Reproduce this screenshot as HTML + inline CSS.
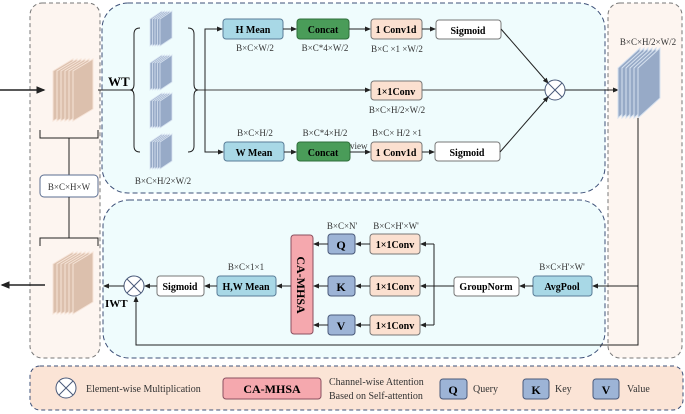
<!DOCTYPE html>
<html><head><meta charset="utf-8"><style>
body{margin:0;background:#fff}
svg{display:block;font-family:"Liberation Serif",serif}
.b{font-weight:bold;font-size:10px}
.s{font-size:9px;fill:#333}
</style></head><body>
<svg width="685" height="414" viewBox="0 0 685 414" xmlns="http://www.w3.org/2000/svg">
<defs>
<marker id="a" markerWidth="6" markerHeight="6" refX="5" refY="3" orient="auto"><path d="M0,0.5 L6,3 L0,5.5Z" fill="#222"/></marker>
<path id="ps" d="M0,14 L20,2 L20,52 L0,64Z" fill="#dcc0ad" stroke="#f6e4d8" stroke-width="1"/>
<path id="bs" d="M0,8 L12,0 L12,27 L0,35Z" fill="#97aac7" stroke="#d7e2f0" stroke-width="0.8"/>
<path id="rs" d="M0,20 L22,0 L22,50 L0,70Z" fill="#97aac7" stroke="#d7e2f0" stroke-width="1"/>
<g id="ox"><circle r="10" fill="#fff" stroke="#4a5a7a" stroke-width="1"/><path d="M-7,-7L7,7M7,-7L-7,7" stroke="#4a5a7a" stroke-width="1"/></g>
</defs>
<!-- panels -->
<rect x="30" y="3" width="70" height="355" rx="12" fill="#fdf5f0" stroke="#777" stroke-dasharray="4,3"/>
<rect x="608" y="3" width="74" height="355" rx="12" fill="#fdf5f0" stroke="#777" stroke-dasharray="4,3"/>
<rect x="102" y="3" width="503" height="190" rx="26" fill="#effcfd" stroke="#3d5078" stroke-dasharray="5,3"/>
<rect x="103" y="200" width="502" height="158" rx="26" fill="#effcfd" stroke="#3d5078" stroke-dasharray="5,3"/>
<rect x="30" y="366" width="653" height="44" rx="10" fill="#fbe4d6" stroke="#3d5078" stroke-dasharray="4,3"/>

<!-- input -->
<line x1="0" y1="90" x2="44" y2="90" stroke="#222" stroke-width="1.5" marker-end="url(#a)"/>
<g transform="translate(53,57)"><use href="#ps"/><use href="#ps" x="4"/><use href="#ps" x="8"/><use href="#ps" x="12"/><use href="#ps" x="16"/><use href="#ps" x="20"/></g>
<text x="108" y="86" class="b" font-size="13" style="font-size:13px">WT</text>
<line x1="98" y1="90" x2="133" y2="90" stroke="#222"/>
<!-- braces -->
<path d="M140,28 Q134,28 134,34 L134,84 Q134,90 130,90 Q134,90 134,96 L134,146 Q134,152 140,152" fill="none" stroke="#222"/>
<path d="M188,28 Q194,28 194,34 L194,84 Q194,90 198,90 Q194,90 194,96 L194,146 Q194,152 188,152" fill="none" stroke="#222"/>
<g transform="translate(150,11)"><use href="#bs"/><use href="#bs" x="2.5"/><use href="#bs" x="5"/><use href="#bs" x="7.5"/><use href="#bs" x="10"/></g>
<g transform="translate(150,55)"><use href="#bs"/><use href="#bs" x="2.5"/><use href="#bs" x="5"/><use href="#bs" x="7.5"/><use href="#bs" x="10"/></g>
<g transform="translate(150,93)"><use href="#bs"/><use href="#bs" x="2.5"/><use href="#bs" x="5"/><use href="#bs" x="7.5"/><use href="#bs" x="10"/></g>
<g transform="translate(150,134)"><use href="#bs"/><use href="#bs" x="2.5"/><use href="#bs" x="5"/><use href="#bs" x="7.5"/><use href="#bs" x="10"/></g>
<text x="163" y="184" class="s" text-anchor="middle">B×C×H/2×W/2</text>

<!-- branch lines -->
<line x1="198" y1="90" x2="545" y2="90" stroke="#444"/>
<path d="M205,90 L205,29 L222,29" fill="none" stroke="#222" marker-end="url(#a)"/>
<path d="M205,90 L205,152 L223,152" fill="none" stroke="#222" marker-end="url(#a)"/>
<line x1="340" y1="90" x2="370" y2="90" stroke="#222" marker-end="url(#a)"/>

<!-- top row -->
<rect x="223" y="19" width="60" height="20" rx="3" fill="#a8d8e6" stroke="#5a7d98"/>
<text x="253" y="33" class="b" text-anchor="middle">H Mean</text>
<text x="255" y="51" class="s" text-anchor="middle">B×C×W/2</text>
<line x1="283" y1="29" x2="296" y2="29" stroke="#222" marker-end="url(#a)"/>
<rect x="297" y="19" width="52" height="20" rx="3" fill="#4a9c59" stroke="#2f6e3a"/>
<text x="323" y="33" class="b" text-anchor="middle">Concat</text>
<text x="325" y="51" class="s" text-anchor="middle">B×C*4×W/2</text>
<line x1="349" y1="29" x2="370" y2="29" stroke="#222" marker-end="url(#a)"/>
<rect x="371" y="19" width="51" height="20" rx="3" fill="#fbe0d0" stroke="#777"/>
<text x="396" y="33" class="b" text-anchor="middle">1 Conv1d</text>
<text x="397" y="52" class="s" text-anchor="middle">B×C ×1 ×W/2</text>
<line x1="422" y1="29" x2="435" y2="29" stroke="#222" marker-end="url(#a)"/>
<rect x="436" y="20" width="65" height="19" rx="3" fill="#fff" stroke="#777"/>
<text x="468" y="34" class="b" text-anchor="middle">Sigmoid</text>
<line x1="501" y1="29" x2="548" y2="83" stroke="#222" marker-end="url(#a)"/>

<!-- middle -->
<rect x="371" y="81" width="51" height="19" rx="3" fill="#fbe0d0" stroke="#777"/>
<text x="396" y="95" class="b" text-anchor="middle">1×1Conv</text>
<text x="397" y="113" class="s" text-anchor="middle">B×C×H/2×W/2</text>
<use href="#ox" x="555" y="90"/>
<line x1="565" y1="90" x2="618" y2="90" stroke="#222" marker-end="url(#a)"/>

<!-- bottom row top panel -->
<text x="255" y="136" class="s" text-anchor="middle">B×C×H/2</text>
<rect x="224" y="142" width="60" height="19" rx="3" fill="#a8d8e6" stroke="#5a7d98"/>
<text x="254" y="156" class="b" text-anchor="middle">W Mean</text>
<line x1="284" y1="152" x2="296" y2="152" stroke="#222" marker-end="url(#a)"/>
<text x="325" y="136" class="s" text-anchor="middle">B×C*4×H/2</text>
<rect x="297" y="142" width="53" height="19" rx="3" fill="#4a9c59" stroke="#2f6e3a"/>
<text x="323" y="156" class="b" text-anchor="middle">Concat</text>
<text x="350" y="149" class="s">view</text>
<line x1="350" y1="152" x2="370" y2="152" stroke="#222" marker-end="url(#a)"/>
<text x="397" y="136" class="s" text-anchor="middle">B×C× H/2 ×1</text>
<rect x="371" y="142" width="51" height="19" rx="3" fill="#fbe0d0" stroke="#777"/>
<text x="396" y="156" class="b" text-anchor="middle">1 Conv1d</text>
<line x1="422" y1="152" x2="434" y2="152" stroke="#222" marker-end="url(#a)"/>
<rect x="435" y="142" width="65" height="19" rx="3" fill="#fff" stroke="#777"/>
<text x="467" y="156" class="b" text-anchor="middle">Sigmoid</text>
<line x1="500" y1="152" x2="548" y2="97" stroke="#222" marker-end="url(#a)"/>

<!-- right stack -->
<text x="648" y="45" class="s" text-anchor="middle">B×C×H/2×W/2</text>
<g transform="translate(618,48)"><use href="#rs"/><use href="#rs" x="4"/><use href="#rs" x="8"/><use href="#rs" x="12"/><use href="#rs" x="16"/><use href="#rs" x="20"/></g>
<path d="M638,118 L638,345 L136,345 L136,297" fill="none" stroke="#222" marker-end="url(#a)"/>
<line x1="638" y1="286" x2="593" y2="286" stroke="#222" marker-end="url(#a)"/>

<!-- left brace & box -->
<path d="M40,130 L40,138 L69,138 L98,138 L98,130 M69,138 L69,175" fill="none" stroke="#222"/>
<rect x="40" y="175" width="58" height="22" rx="4" fill="#fff" stroke="#5a6d90"/>
<text x="69" y="190" class="s" text-anchor="middle">B×C×H×W</text>
<path d="M69,197 L69,238 M40,246 L40,238 L98,238 L98,246" fill="none" stroke="#222"/>
<g transform="translate(53,250)"><use href="#ps"/><use href="#ps" x="4"/><use href="#ps" x="8"/><use href="#ps" x="12"/><use href="#ps" x="16"/><use href="#ps" x="20"/></g>
<line x1="45" y1="285" x2="2" y2="285" stroke="#222" stroke-width="1.5" marker-end="url(#a)"/>

<!-- bottom panel -->
<text x="562" y="270" class="s" text-anchor="middle">B×C×H'×W'</text>
<rect x="533" y="276" width="59" height="20" rx="3" fill="#a8d8e6" stroke="#5a7d98"/>
<text x="562" y="290" class="b" text-anchor="middle">AvgPool</text>
<line x1="533" y1="286" x2="520" y2="286" stroke="#222" marker-end="url(#a)"/>
<rect x="454" y="277" width="65" height="19" rx="3" fill="#fff" stroke="#777"/>
<text x="486" y="290" class="b" text-anchor="middle">GroupNorm</text>
<line x1="454" y1="286" x2="434" y2="286" stroke="#222"/>
<path d="M434,244 L434,325" stroke="#222"/>
<line x1="434" y1="244" x2="421" y2="244" stroke="#222" marker-end="url(#a)"/>
<line x1="434" y1="286" x2="421" y2="286" stroke="#222" marker-end="url(#a)"/>
<line x1="434" y1="325" x2="421" y2="325" stroke="#222" marker-end="url(#a)"/>
<text x="342" y="229" class="s" text-anchor="middle">B×C×N'</text>
<text x="396" y="229" class="s" text-anchor="middle">B×C×H'×W'</text>
<rect x="370" y="234" width="50" height="20" rx="3" fill="#fbe0d0" stroke="#777"/>
<text x="395" y="248" class="b" text-anchor="middle">1×1Conv</text>
<rect x="370" y="276" width="50" height="20" rx="3" fill="#fbe0d0" stroke="#777"/>
<text x="395" y="290" class="b" text-anchor="middle">1×1Conv</text>
<rect x="370" y="315" width="50" height="20" rx="3" fill="#fbe0d0" stroke="#777"/>
<text x="395" y="329" class="b" text-anchor="middle">1×1Conv</text>
<line x1="370" y1="244" x2="356" y2="244" stroke="#222" marker-end="url(#a)"/>
<line x1="370" y1="286" x2="356" y2="286" stroke="#222" marker-end="url(#a)"/>
<line x1="370" y1="325" x2="356" y2="325" stroke="#222" marker-end="url(#a)"/>
<rect x="328" y="234" width="27" height="20" rx="3" fill="#9db4d6" stroke="#4a5a7a"/>
<text x="341" y="249" class="b" style="font-size:12px" text-anchor="middle">Q</text>
<rect x="328" y="276" width="27" height="20" rx="3" fill="#9db4d6" stroke="#4a5a7a"/>
<text x="341" y="291" class="b" style="font-size:12px" text-anchor="middle">K</text>
<rect x="328" y="315" width="27" height="20" rx="3" fill="#9db4d6" stroke="#4a5a7a"/>
<text x="341" y="330" class="b" style="font-size:12px" text-anchor="middle">V</text>
<line x1="328" y1="244" x2="314" y2="244" stroke="#222" marker-end="url(#a)"/>
<line x1="328" y1="286" x2="314" y2="286" stroke="#222" marker-end="url(#a)"/>
<line x1="328" y1="325" x2="314" y2="325" stroke="#222" marker-end="url(#a)"/>
<rect x="291" y="235" width="22" height="99" rx="3" fill="#f5a8ae" stroke="#8a5060"/>
<text x="0" y="0" class="b" style="font-size:12px" text-anchor="middle" transform="translate(297,285) rotate(90)">CA-MHSA</text>
<line x1="291" y1="286" x2="277" y2="286" stroke="#222" marker-end="url(#a)"/>
<text x="246" y="270" class="s" text-anchor="middle">B×C×1×1</text>
<rect x="217" y="276" width="59" height="20" rx="3" fill="#a8d8e6" stroke="#5a7d98"/>
<text x="246" y="290" class="b" text-anchor="middle">H,W Mean</text>
<line x1="217" y1="286" x2="205" y2="286" stroke="#222" marker-end="url(#a)"/>
<rect x="157" y="276" width="47" height="20" rx="3" fill="#fff" stroke="#777"/>
<text x="180" y="290" class="b" text-anchor="middle">Sigmoid</text>
<line x1="157" y1="286" x2="145" y2="286" stroke="#222" marker-end="url(#a)"/>
<use href="#ox" x="134" y="286"/>
<line x1="124" y1="286" x2="104" y2="286" stroke="#222" marker-end="url(#a)"/>
<text x="105" y="307" class="b" style="font-size:11px">IWT</text>

<!-- legend -->
<use href="#ox" x="66" y="388"/>
<text x="86" y="392" class="s" style="font-size:10px">Element-wise Multiplication</text>
<rect x="223" y="378" width="98" height="21" rx="3" fill="#f5a8ae" stroke="#8a5060"/>
<text x="272" y="393" class="b" style="font-size:12px" text-anchor="middle">CA-MHSA</text>
<text x="329" y="385" class="s" style="font-size:10px">Channel-wise Attention</text>
<text x="329" y="399" class="s" style="font-size:10px">Based on Self-attention</text>
<rect x="440" y="379" width="27" height="20" rx="3" fill="#9db4d6" stroke="#4a5a7a"/>
<text x="453" y="394" class="b" style="font-size:12px" text-anchor="middle">Q</text>
<text x="473" y="392" class="s" style="font-size:10px">Query</text>
<rect x="523" y="379" width="26" height="20" rx="3" fill="#9db4d6" stroke="#4a5a7a"/>
<text x="536" y="394" class="b" style="font-size:12px" text-anchor="middle">K</text>
<text x="555" y="392" class="s" style="font-size:10px">Key</text>
<rect x="593" y="379" width="26" height="20" rx="3" fill="#9db4d6" stroke="#4a5a7a"/>
<text x="606" y="394" class="b" style="font-size:12px" text-anchor="middle">V</text>
<text x="627" y="392" class="s" style="font-size:10px">Value</text>
</svg>
</body></html>
